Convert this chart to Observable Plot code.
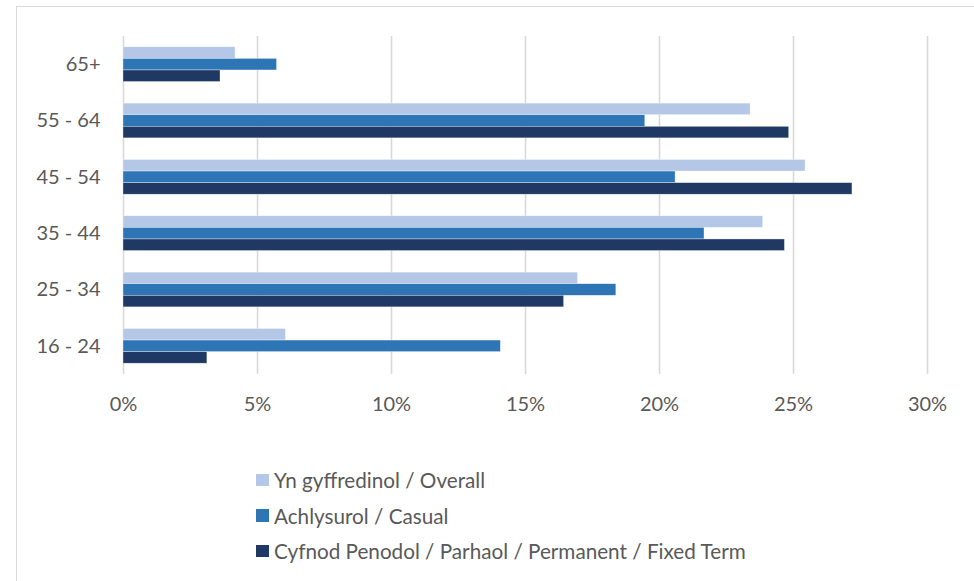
<!DOCTYPE html>
<html>
<head>
<meta charset="utf-8">
<script src="https://cdn.jsdelivr.net/npm/d3@7"></script>
<script src="https://cdn.jsdelivr.net/npm/@observablehq/plot@0.6"></script>
<style>
  html, body { margin: 0; padding: 0; background: #fff; }
  #wrap { position: relative; width: 974px; height: 581px; overflow: hidden; font-family: Lato, "Open Sans", sans-serif; color: #595959; }
  #frame { position: absolute; left: 16px; top: 6px; width: 2000px; height: 2000px; border-left: 1.5px solid #d9d9d9; border-top: 1.5px solid #d9d9d9; box-sizing: border-box; }
  #chart { position: absolute; left: 0; top: 0; }
  #legend { position: absolute; left: 256px; top: 462px; }
  .row { display: flex; align-items: center; height: 35.7px; font-size: 20.7px; }
  .sw { width: 12.5px; height: 12.5px; margin-right: 5.5px; flex: none; }
</style>
</head>
<body>
<div id="wrap">
  <div id="frame"></div>
  <div id="chart"></div>
  <div id="legend"></div>
</div>
<script>
const ages = ["16 - 24", "25 - 34", "35 - 44", "45 - 54", "55 - 64", "65+"];
const overall = [6.06, 16.96, 23.87, 25.45, 23.4, 4.18];
const casual = [14.08, 18.39, 21.68, 20.6, 19.47, 5.73];
const permanent = [3.13, 16.44, 24.68, 27.2, 24.84, 3.62];
const seriesNames = [
  "Yn gyffredinol / Overall",
  "Achlysurol / Casual",
  "Cyfnod Penodol / Parhaol / Permanent / Fixed Term"
];
const colors = ["#b4c7e7", "#2e75b6", "#1f3864"];
const xTicks = [0, 5, 10, 15, 20, 25, 30];

const seriesValues = [overall, casual, permanent];
const groupWidth = 0.617;
const barW = groupWidth / 3;
const rows = [];
ages.forEach((age, i) => {
  seriesValues.forEach((vals, s) => {
    rows.push({
      age, series: seriesNames[s], value: vals[i],
      y1: i + groupWidth / 2 - (s + 1) * barW,
      y2: i + groupWidth / 2 - s * barW
    });
  });
});

const chart = Plot.plot({
  width: 974,
  height: 430,
  marginLeft: 123,
  marginRight: 47,
  marginTop: 36,
  marginBottom: 56,
  style: { fontFamily: "Lato, 'Open Sans', sans-serif", fontSize: "20px", color: "#595959", background: "transparent" },
  x: { domain: [0, 30], ticks: xTicks, tickFormat: d => d + "%", tickSize: 0, tickPadding: 22, label: null },
  y: { domain: [-0.5, 5.5], ticks: d3.range(ages.length), tickFormat: i => ages[i], tickSize: 0, tickPadding: 23, label: null },
  color: { domain: seriesNames, range: colors },
  marks: [
    Plot.ruleX(xTicks, { stroke: "#d9d9d9", strokeWidth: 1.6 }),
    Plot.rect(rows, { x1: 0, x2: "value", y1: "y1", y2: "y2", fill: "series", stroke: "white", strokeWidth: 0.6, strokeOpacity: 0.6 })
  ]
});
document.getElementById("chart").appendChild(chart);

const legend = document.getElementById("legend");
seriesNames.forEach((name, s) => {
  const row = document.createElement("div");
  row.className = "row";
  const sw = document.createElement("div");
  sw.className = "sw";
  sw.style.background = colors[s];
  const t = document.createElement("span");
  t.textContent = name;
  row.appendChild(sw);
  row.appendChild(t);
  legend.appendChild(row);
});
</script>
</body>
</html>
